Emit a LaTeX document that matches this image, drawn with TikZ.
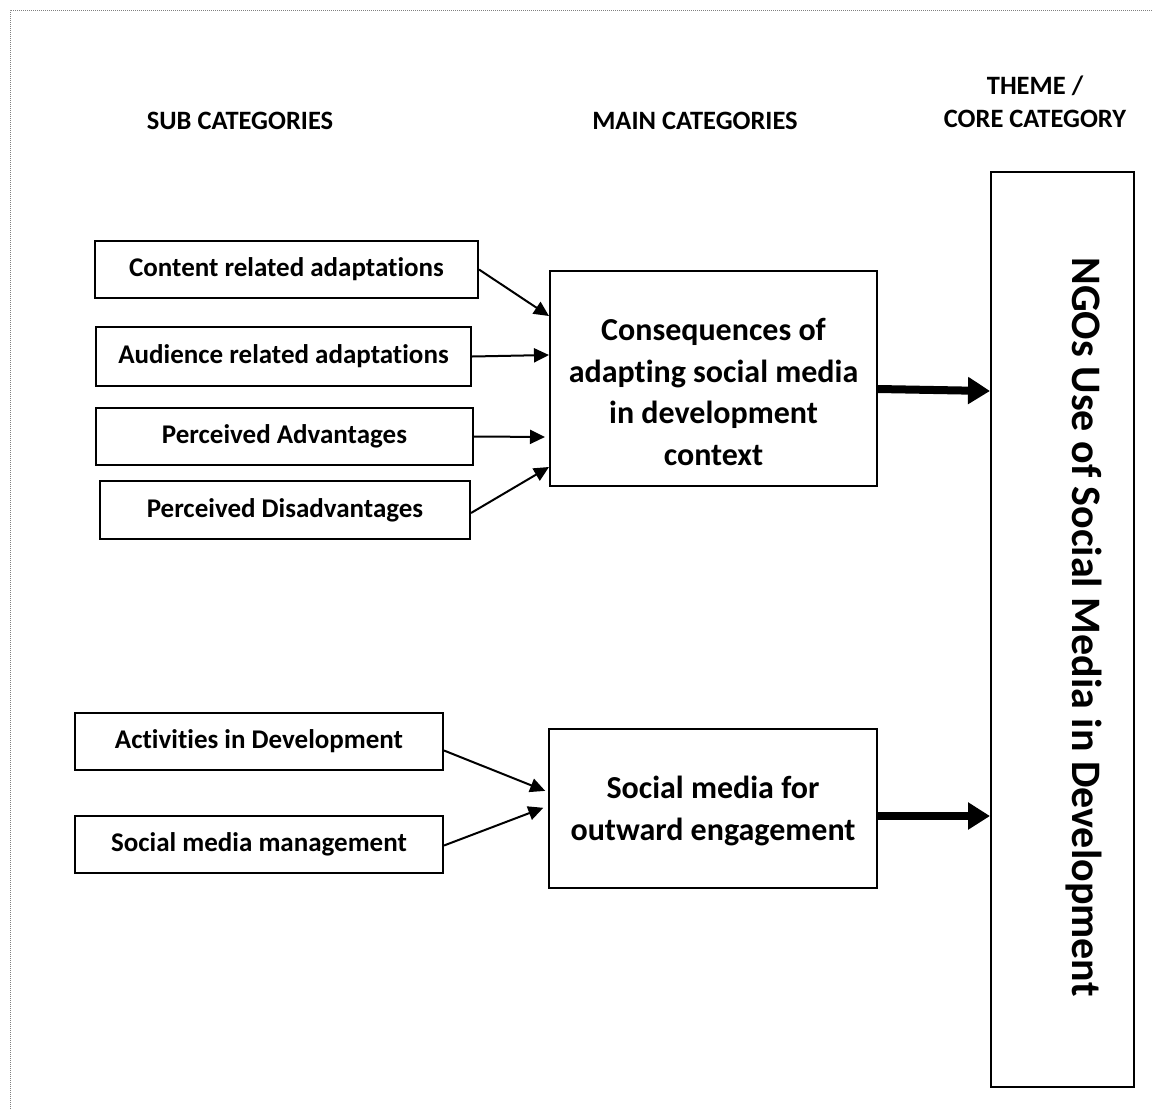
\documentclass[tikz,border=0pt]{standalone}
\usepackage{fontspec}
\setmainfont{Carlito}[Ligatures={NoCommon}]
\usetikzlibrary{arrows.meta}

\begin{document}
\begin{tikzpicture}[x=1pt,y=-1pt,
  box/.style={draw=black,line width=2pt,inner sep=0pt,font=\fontsize{27}{32}\bfseries\selectfont},
  bigtext/.style={font=\fontsize{32}{41.5}\bfseries\selectfont,align=center},
  head/.style={font=\fontsize{26.5}{33}\bfseries\selectfont,align=center},
  thin/.style={line width=2pt,-{Triangle[length=15pt,width=14pt]}},
  thick/.style={line width=8pt,-{Triangle[length=22pt,width=26pt]}}]
\useasboundingbox (0,0) rectangle (1153,1109);
% page frame (dotted, top and left only)
\draw[gray,densely dotted,line width=1pt] (10,1109) -- (10,10) -- (1153,10);

% column headings
\node[head] (h1) at (240,121) {SUB CATEGORIES};
\node[head] (h2) at (695,121) {MAIN CATEGORIES};
\node[head] (h3) at (1035,102) {THEME /\\CORE CATEGORY};

% sub categories
\node[box,minimum width=383pt,minimum height=57pt] (c1) at (286.5,269.5) {Content related adaptations};
\node[box,minimum width=375pt,minimum height=59pt] (c2) at (283.5,356.5) {Audience related adaptations};
\node[box,minimum width=377pt,minimum height=57pt] (c3) at (284.5,436.5) {Perceived Advantages};
\node[box,minimum width=370pt,minimum height=58pt] (c4) at (285,510) {Perceived Disadvantages};
\node[box,minimum width=368pt,minimum height=57pt] (a1) at (259,741.5) {Activities in Development};
\node[box,minimum width=368pt,minimum height=57pt] (a2) at (259,844.5) {Social media management};

% main categories
\node[box,minimum width=327pt,minimum height=215pt] (cons) at (713.5,378.5) {};
\node[bigtext] (consT) at (713.5,392) {Consequences of\\adapting social media\\in development\\context};
\node[box,minimum width=328pt,minimum height=159pt] (soc) at (713,808.5) {};
\node[bigtext] (socT) at (713,811) {Social media for\\outward engagement};

% core category
\node[box,minimum width=143pt,minimum height=915pt] (core) at (1062.5,629.5) {};
\node[font=\fontsize{42}{50}\bfseries\selectfont,rotate=-90] (coreT) at (1084,627) {NGOs Use of Social Media in Development};

% connectors
\draw[thin] (c1.east) -- ([yshift=62.5pt]cons.west);
\draw[thin] (c2.east) -- ([yshift=23.5pt]cons.west);
\draw[thin,shorten >=4pt] (c3.east) -- ([yshift=-58.5pt]cons.west);
\draw[thin] ([yshift=-3pt]c4.east) -- ([yshift=-88.5pt]cons.west);
\draw[thin,shorten >=3pt] ([yshift=-9pt]a1.east) -- ([yshift=16.5pt]soc.west);
\draw[thin,shorten >=5pt] ([yshift=-1pt]a2.east) -- ([yshift=2.5pt]soc.west);
\draw[thick] ([yshift=-10.5pt]cons.east) -- ([yshift=238.5pt]core.west);
\draw[thick] ([yshift=-7.5pt]soc.east) -- ([yshift=-186.5pt]core.west);
\end{tikzpicture}
\end{document}
